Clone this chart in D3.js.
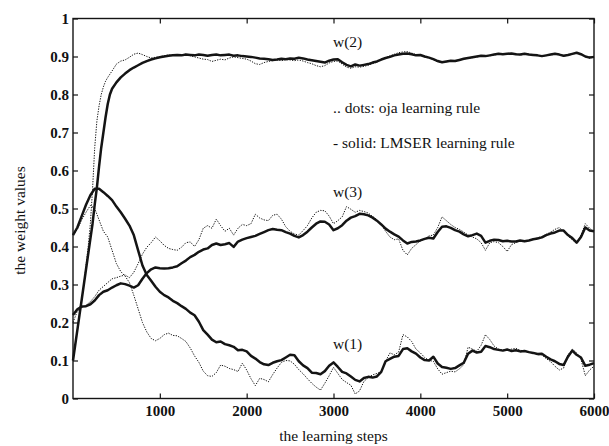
<!DOCTYPE html>
<html>
<head>
<meta charset="utf-8">
<script src="https://cdn.jsdelivr.net/npm/d3@7"></script>
<style>
  html, body { margin: 0; padding: 0; background: #fff; }
  svg { display: block; }
  .tick text { font-family: "Liberation Serif", "Times New Roman", serif; font-weight: bold; font-size: 15px; fill: #111; }
  .lbl { font-family: "Liberation Serif", "Times New Roman", serif; font-size: 15.5px; fill: #111; }
</style>
</head>
<body>
<svg id="chart" width="609" height="446"></svg>
<script>
// Learning steps at which each weight trajectory is recorded
const stepsEarlyFine = [0,25,50,75,100,125,150,175,200,225,250,275,300,325,350,375,400,425,450];

// ---- w(2) ----
const w2LmserSteps = stepsEarlyFine.concat([500,550,600,650,700,750,800,850,900,950,1000,1050,1100,1150,1200,
  1250,1300,1350,1400,1450,1500,1550,1600,1650,1700,1750,1800,1850,1900,1950,2000,2050,2100,2150,2200,2250,2300,2350,2400,2450,
  2500,2550,2600,2650,2700,2750,2800,2850,2900,2950,3000,3050,3100,3150,3200,3250,3300,3350,3400,3450,3500,3550,3600,3650,3700,
  3750,3800,3850,3900,3950,4000,4050,4100,4150,4200,4250,4300,4350,4400,4450,4500,4550,4600,4650,4700,4750,4800,4850,4900,4950,
  5000,5050,5100,5150,5200,5250,5300,5350,5400,5450,5500,5550,5600,5650,5700,5750,5800,5850,5900,5950,6000]);
const w2Lmser = [0.10,0.14,0.18,0.22,0.26,0.30,0.34,0.38,0.42,0.46,0.51,0.555,0.61,0.66,0.70,0.74,0.775,0.80,0.815,
  0.832,0.845,0.855,0.864,0.871,0.877,0.883,0.888,0.892,0.895,0.898,0.900,0.902,0.903,0.904,
  0.903,0.905,0.904,0.903,0.905,0.904,0.902,0.904,0.905,0.903,0.904,0.905,0.902,0.903,0.901,0.900,0.899,0.897,0.895,0.894,0.893,0.891,0.892,0.894,0.893,
  0.895,0.894,0.897,0.895,0.892,0.890,0.888,0.886,0.884,0.889,0.892,0.893,0.885,0.878,0.874,0.879,0.876,0.878,0.880,0.884,0.887,0.892,0.896,0.899,0.903,
  0.905,0.907,0.908,0.906,0.903,0.904,0.900,0.897,0.893,0.888,0.885,0.887,0.889,0.888,0.891,0.894,0.896,0.898,0.900,0.902,0.901,0.903,0.905,0.907,0.906,
  0.907,0.908,0.906,0.905,0.907,0.905,0.904,0.903,0.901,0.903,0.905,0.907,0.905,0.902,0.904,0.907,0.910,0.906,0.900,0.897,0.899];

const w2OjaSteps = [0,25,50,75,100,125,150,175,200,225,250,275,300,325,350,375,400,450,500,550,600,650,700,750,800,850,900,950,
  1000,1050,1100,1150,1200,1250,1300,1350,1400,1450,1500,1550,1600,1650,1700,1750,1800,1850,1900,1950,2000,2050,2100,2150,2200,
  2250,2300,2350,2400,2450,2500,2550,2600,2650,2700,2750,2800,2850,2900,2950,3000,3050,3100,3150,3200,3250,3300,3350,3400,3450,
  3500,3550,3600,3650,3700,3750,3800,3850,3900,3950,4000,4050,4100,4150,4200,4250,4300,4350,4400,4450,4500,4550,4600,4650,4700,
  4750,4800,4850,4900,4950,5000,5050,5100,5150,5200,5250,5300,5350,5400,5450,5500,5550,5600,5650,5700,5750,5800,5850,5900,5950,6000];
const w2Oja = [0.10,0.14,0.18,0.22,0.26,0.30,0.35,0.40,0.46,0.55,0.66,0.73,0.77,0.80,0.82,0.835,0.845,0.862,0.880,0.888,0.891,0.898,0.906,0.909,0.905,0.900,0.896,0.898,
  0.900,0.902,0.904,0.903,0.905,0.904,0.906,0.902,0.899,0.896,0.893,0.892,0.887,0.890,0.893,0.891,0.896,0.899,0.897,0.895,0.893,0.888,0.881,0.879,0.884,
  0.887,0.889,0.891,0.889,0.892,0.891,0.889,0.891,0.888,0.884,0.881,0.876,0.873,0.876,0.883,0.887,0.888,0.880,0.872,0.869,0.873,0.872,0.874,0.877,0.881,
  0.885,0.891,0.897,0.902,0.906,0.910,0.912,0.913,0.909,0.905,0.903,0.899,0.896,0.891,0.886,0.884,0.886,0.888,0.889,0.890,0.893,0.895,0.897,0.899,0.901,
  0.902,0.902,0.904,0.906,0.907,0.906,0.907,0.907,0.904,0.906,0.906,0.903,0.902,0.902,0.902,0.904,0.906,0.906,0.901,0.903,0.906,0.909,0.907,0.899,0.896,0.898];

// ---- w(1) and w(3) share a regular 50-step grid ----
const grid50 = d3.range(0, 6001, 50);

const w1Lmser = [0.43,0.45,0.48,0.51,0.535,0.552,0.552,0.543,0.533,0.522,0.505,0.49,0.473,0.455,0.43,0.39,0.35,0.325,0.31,0.294,
  0.281,0.272,0.266,0.257,0.251,0.243,0.236,0.226,0.219,0.202,0.18,0.168,0.155,0.148,0.15,0.143,0.14,0.136,0.127,0.128,
  0.124,0.112,0.105,0.096,0.09,0.088,0.094,0.098,0.101,0.108,0.115,0.114,0.098,0.087,0.08,0.068,0.067,0.064,0.072,0.086,
  0.095,0.083,0.07,0.066,0.058,0.049,0.045,0.054,0.057,0.055,0.058,0.07,0.098,0.104,0.11,0.112,0.13,0.132,0.124,0.118,
  0.108,0.101,0.1,0.11,0.092,0.083,0.081,0.078,0.08,0.087,0.094,0.118,0.126,0.121,0.123,0.138,0.135,0.13,0.128,0.126,
  0.129,0.125,0.127,0.124,0.125,0.122,0.12,0.117,0.118,0.11,0.103,0.098,0.091,0.088,0.11,0.126,0.115,0.108,0.086,0.089,0.093];

const w1Oja = [0.43,0.445,0.47,0.49,0.508,0.50,0.47,0.44,0.425,0.39,0.355,0.334,0.322,0.305,0.272,0.236,0.2,0.175,0.158,0.152,
  0.158,0.168,0.172,0.166,0.165,0.158,0.15,0.133,0.112,0.095,0.072,0.06,0.058,0.068,0.088,0.085,0.079,0.076,0.071,0.093,
  0.075,0.052,0.034,0.053,0.05,0.044,0.063,0.08,0.095,0.1,0.099,0.09,0.076,0.065,0.052,0.04,0.03,0.022,0.04,0.06,
  0.082,0.066,0.05,0.042,0.035,0.012,0.02,0.045,0.055,0.062,0.066,0.07,0.098,0.12,0.115,0.122,0.168,0.162,0.15,0.13,
  0.12,0.108,0.1,0.098,0.078,0.064,0.068,0.072,0.07,0.078,0.089,0.135,0.13,0.124,0.14,0.168,0.155,0.138,0.13,0.128,
  0.127,0.13,0.132,0.127,0.125,0.123,0.12,0.115,0.115,0.105,0.097,0.085,0.075,0.08,0.115,0.13,0.12,0.103,0.06,0.075,0.085];

const w3Lmser = [0.22,0.235,0.242,0.243,0.248,0.258,0.272,0.281,0.285,0.292,0.298,0.303,0.301,0.297,0.292,0.298,0.315,0.33,0.34,0.345,
  0.343,0.342,0.343,0.345,0.348,0.356,0.363,0.372,0.378,0.386,0.392,0.395,0.404,0.408,0.404,0.406,0.409,0.399,0.413,0.418,
  0.422,0.425,0.428,0.433,0.438,0.443,0.446,0.444,0.443,0.438,0.434,0.428,0.424,0.43,0.439,0.45,0.46,0.466,0.465,0.458,
  0.443,0.448,0.456,0.468,0.476,0.48,0.486,0.485,0.482,0.476,0.468,0.458,0.447,0.439,0.432,0.426,0.416,0.408,0.412,0.413,
  0.416,0.42,0.423,0.421,0.438,0.452,0.453,0.449,0.443,0.439,0.432,0.427,0.43,0.434,0.428,0.41,0.415,0.418,0.417,0.414,
  0.415,0.413,0.413,0.416,0.414,0.416,0.419,0.421,0.424,0.43,0.434,0.437,0.442,0.442,0.43,0.422,0.41,0.425,0.45,0.442,0.44];

const w3Oja = [0.2,0.23,0.24,0.245,0.255,0.268,0.285,0.295,0.305,0.315,0.318,0.322,0.325,0.318,0.332,0.355,0.38,0.398,0.41,0.425,
  0.415,0.403,0.395,0.392,0.39,0.398,0.41,0.412,0.4,0.418,0.448,0.455,0.448,0.472,0.455,0.44,0.448,0.43,0.448,0.458,
  0.455,0.46,0.485,0.475,0.47,0.468,0.482,0.485,0.472,0.452,0.44,0.433,0.43,0.442,0.455,0.475,0.49,0.495,0.494,0.48,
  0.46,0.468,0.478,0.505,0.498,0.49,0.495,0.492,0.488,0.479,0.47,0.458,0.44,0.425,0.418,0.42,0.39,0.378,0.395,0.405,
  0.415,0.42,0.428,0.43,0.45,0.478,0.468,0.458,0.45,0.445,0.438,0.43,0.425,0.42,0.41,0.39,0.41,0.413,0.41,0.4,
  0.387,0.405,0.41,0.415,0.413,0.416,0.42,0.423,0.426,0.432,0.438,0.445,0.45,0.44,0.428,0.418,0.408,0.43,0.46,0.448,0.438];

const xTicks = [1000, 2000, 3000, 4000, 5000, 6000];
const yTicks = [0, 0.1, 0.2, 0.3, 0.4, 0.5, 0.6, 0.7, 0.8, 0.9, 1];
const yTickLabels = ["0", "0.1", "0.2", "0.3", "0.4", "0.5", "0.6", "0.7", "0.8", "0.9", "1"];

const curveLabels = [
  { text: "w(2)", step: 2850, value: 0.924 },
  { text: "w(3)", step: 2850, value: 0.53 },
  { text: "w(1)", step: 2850, value: 0.13 }
];
const legendLines = [".. dots: oja learning rule", "- solid: LMSER learning rule"];

// ---- layout ----
const svg = d3.select("#chart");
const margin = { left: 73, right: 15, top: 18.5, bottom: 47.5 };
const W = 609, H = 446;
const x = d3.scaleLinear().domain([0, 6000]).range([margin.left, W - margin.right]);
const y = d3.scaleLinear().domain([0, 1]).range([H - margin.bottom, margin.top]);
const ink = "#141414";

// frame
svg.append("rect")
  .attr("x", x(0)).attr("y", y(1))
  .attr("width", x(6000) - x(0)).attr("height", y(0) - y(1))
  .attr("fill", "none").attr("stroke", ink).attr("stroke-width", 1.4);

// inward ticks on all four sides
const styleAxis = g => {
  g.select(".domain").remove();
  g.selectAll(".tick line").attr("stroke", ink).attr("stroke-width", 1.2);
};
svg.append("g").attr("transform", `translate(0,${y(0)})`)
  .call(d3.axisBottom(x).tickValues(xTicks).tickSize(-5).tickPadding(7).tickFormat(d3.format("d")))
  .call(styleAxis);
svg.append("g").attr("transform", `translate(0,${y(1)})`)
  .call(d3.axisTop(x).tickValues(xTicks).tickSize(-5).tickFormat(""))
  .call(styleAxis);
svg.append("g").attr("transform", `translate(${x(0)},0)`)
  .call(d3.axisLeft(y).tickValues(yTicks).tickSize(-5).tickPadding(4).tickFormat((d, i) => yTickLabels[i]))
  .call(styleAxis);
svg.append("g").attr("transform", `translate(${x(6000)},0)`)
  .call(d3.axisRight(y).tickValues(yTicks).tickSize(-5).tickFormat(""))
  .call(styleAxis);
svg.selectAll(".tick text").attr("fill", ink);

// trajectories
const line = d3.line().x(d => x(d[0])).y(d => y(d[1]));
const pairs = (steps, vals) => steps.map((s, i) => [s, vals[i]]);

const ojaSeries = [pairs(w2OjaSteps, w2Oja), pairs(grid50, w1Oja), pairs(grid50, w3Oja)];
const lmserSeries = [pairs(w2LmserSteps, w2Lmser), pairs(grid50, w1Lmser), pairs(grid50, w3Lmser)];

svg.append("g").selectAll("path").data(ojaSeries).join("path")
  .attr("d", line).attr("fill", "none").attr("stroke", ink)
  .attr("stroke-width", 1).attr("stroke-dasharray", "1.3,1.3");

svg.append("g").selectAll("path").data(lmserSeries).join("path")
  .attr("d", line).attr("fill", "none").attr("stroke", ink)
  .attr("stroke-width", 2.5).attr("stroke-linejoin", "round");

// curve names and legend text
svg.append("g").selectAll("text").data(curveLabels).join("text")
  .attr("class", "lbl").attr("x", 333).attr("y", d => y(d.value))
  .text(d => d.text);
svg.append("g").selectAll("text").data(legendLines).join("text")
  .attr("class", "lbl").attr("x", 333).attr("y", (d, i) => 113 + i * 35)
  .text(d => d);

// axis titles
svg.append("text").attr("class", "lbl")
  .attr("x", (x(0) + x(6000)) / 2).attr("y", 441)
  .attr("text-anchor", "middle").text("the learning steps");
svg.append("text").attr("class", "lbl")
  .attr("transform", `translate(25,${(y(0) + y(1)) / 2 + 12}) rotate(-90)`)
  .attr("text-anchor", "middle").text("the weight values");
</script>
</body>
</html>
